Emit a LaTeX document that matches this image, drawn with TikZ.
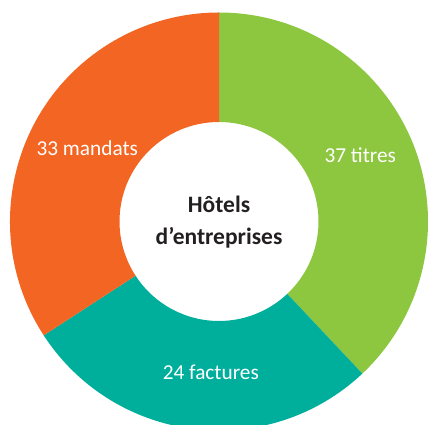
\documentclass[tikz,border=0pt]{standalone}
\usepackage{fontspec}
\setmainfont{Carlito}
\usetikzlibrary{calc}
\definecolor{cgreen}{HTML}{8DC63F}
\definecolor{cteal}{HTML}{00AE9C}
\definecolor{corange}{HTML}{F26522}
\definecolor{cdark}{HTML}{231F20}
\tikzset{
  seglabel/.style={text=white, font=\fontsize{21.3}{25}\selectfont, anchor=base, inner sep=0pt},
  centertext/.style={text=cdark, font=\bfseries\fontsize{23.5}{30}\selectfont, anchor=base, inner sep=0pt}
}
\begin{document}
\begin{tikzpicture}[x=1pt,y=1pt]
\useasboundingbox (0,0) rectangle (428,425);
\clip (0,0) rectangle (428,425);
\coordinate (C) at (219,203.5);
\def\Ro{209pt}
\def\Ri{99.5pt}
% green segment
\fill[cgreen] ($(C)+(90:\Ro)$) arc[start angle=90,end angle=-46.7,radius=\Ro]
  -- ($(C)+(-46.7:\Ri)$) arc[start angle=-46.7,end angle=90,radius=\Ri] -- cycle;
% teal segment
\fill[cteal] ($(C)+(-46.7:\Ro)$) arc[start angle=-46.7,end angle=-147,radius=\Ro]
  -- ($(C)+(-147:\Ri)$) arc[start angle=-147,end angle=-46.7,radius=\Ri] -- cycle;
% orange segment
\fill[corange] ($(C)+(-147:\Ro)$) arc[start angle=-147,end angle=-270,radius=\Ro]
  -- ($(C)+(90:\Ri)$) arc[start angle=90,end angle=213,radius=\Ri] -- cycle;
\node[seglabel] (titres) at (360.3,262.7) {37 titres};
\node[seglabel] (factures) at (210.8,45) {24 factures};
\node[seglabel] (mandats) at (87.3,269.3) {33 mandats};
\node[centertext] (hotels) at (219,212) {Hôtels};
\node[centertext] (entreprises) at (219,180) {d’entreprises};
\end{tikzpicture}
\end{document}
